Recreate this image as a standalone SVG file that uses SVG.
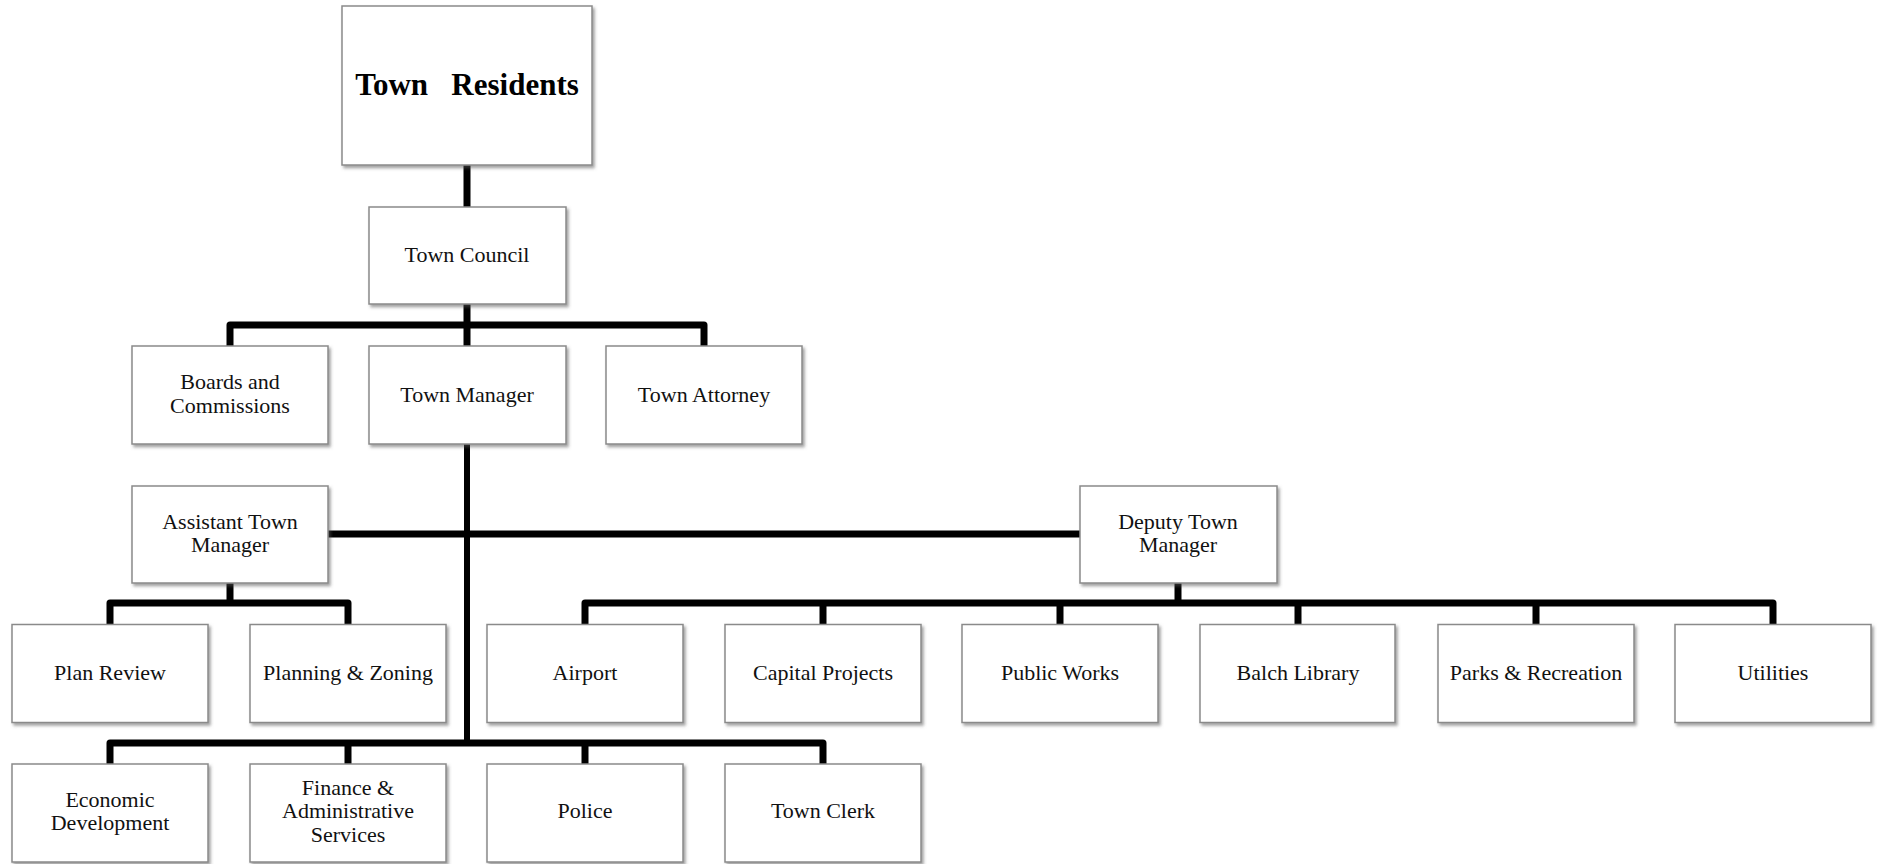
<svg xmlns="http://www.w3.org/2000/svg" width="1880" height="864" viewBox="0 0 1880 864">
<defs>
<filter id="sh" x="-5%" y="-5%" width="115%" height="120%">
<feDropShadow dx="2" dy="2.5" stdDeviation="1.5" flood-color="#555" flood-opacity="0.55"/>
</filter>
<style>
.box{fill:#fff;stroke:#8a8a8a;stroke-width:1.5;filter:url(#sh)}
.t{font-family:"Liberation Serif","Times New Roman",serif;font-size:22px;fill:#111;text-anchor:middle}
.tb{font-family:"Liberation Serif","Times New Roman",serif;font-size:31px;font-weight:bold;fill:#000;text-anchor:middle}
.c{fill:none;stroke:#000;stroke-width:7;stroke-linejoin:round}
</style>
</defs>
<rect width="1880" height="864" fill="#fff"/>
<g id="connectors">
<path class="c" d="M467,165 V207"/>
<path class="c" d="M467,304 V346"/>
<path class="c" d="M230,346 V325 H704 V346"/>
<path class="c" d="M467,444 V743" style="stroke-width:6"/>
<path class="c" d="M327,534 H1080"/>
<path class="c" d="M230,583 V603"/>
<path class="c" d="M110,624 V603 H348 V624"/>
<path class="c" d="M1178,583 V603"/>
<path class="c" d="M585,624 V603 H1773 V624"/>
<path class="c" d="M823,603 V624 M1060,603 V624 M1298,603 V624 M1536,603 V624"/>
<path class="c" d="M110,764 V743 H823 V764"/>
<path class="c" d="M348,743 V764 M585,743 V764"/>
</g>
<g id="town-residents"><rect class="box" x="342" y="6" width="250" height="159"/><text class="tb" x="467" y="95" xml:space="preserve">Town   Residents</text></g>
<g id="town-council"><rect class="box" x="369" y="207" width="197" height="97"/><text class="t" x="467" y="262">Town Council</text></g>
<g id="boards"><rect class="box" x="132" y="346" width="196" height="98"/><text class="t" x="230" y="389">Boards and</text><text class="t" x="230" y="413">Commissions</text></g>
<g id="town-manager"><rect class="box" x="369" y="346" width="197" height="98"/><text class="t" x="467" y="402">Town Manager</text></g>
<g id="town-attorney"><rect class="box" x="606" y="346" width="196" height="98"/><text class="t" x="704" y="402">Town Attorney</text></g>
<g id="assistant-town-manager"><rect class="box" x="132" y="486" width="196" height="97"/><text class="t" x="230" y="529">Assistant Town</text><text class="t" x="230" y="552">Manager</text></g>
<g id="deputy-town-manager"><rect class="box" x="1080" y="486" width="197" height="97"/><text class="t" x="1178" y="529">Deputy Town</text><text class="t" x="1178" y="552">Manager</text></g>
<g id="plan-review"><rect class="box" x="12" y="624.5" width="196" height="98"/><text class="t" x="110" y="680">Plan Review</text></g>
<g id="planning-zoning"><rect class="box" x="250" y="624.5" width="196" height="98"/><text class="t" x="348" y="680">Planning &amp; Zoning</text></g>
<g id="airport"><rect class="box" x="487" y="624.5" width="196" height="98"/><text class="t" x="585" y="680">Airport</text></g>
<g id="capital-projects"><rect class="box" x="725" y="624.5" width="196" height="98"/><text class="t" x="823" y="680">Capital Projects</text></g>
<g id="public-works"><rect class="box" x="962" y="624.5" width="196" height="98"/><text class="t" x="1060" y="680">Public Works</text></g>
<g id="balch-library"><rect class="box" x="1200" y="624.5" width="195" height="98"/><text class="t" x="1298" y="680">Balch Library</text></g>
<g id="parks-recreation"><rect class="box" x="1438" y="624.5" width="196" height="98"/><text class="t" x="1536" y="680">Parks &amp; Recreation</text></g>
<g id="utilities"><rect class="box" x="1675" y="624.5" width="196" height="98"/><text class="t" x="1773" y="680">Utilities</text></g>
<g id="economic-development"><rect class="box" x="12" y="764" width="196" height="98"/><text class="t" x="110" y="807">Economic</text><text class="t" x="110" y="830">Development</text></g>
<g id="finance"><rect class="box" x="250" y="764" width="196" height="98"/><text class="t" x="348" y="795">Finance &amp;</text><text class="t" x="348" y="818">Administrative</text><text class="t" x="348" y="842">Services</text></g>
<g id="police"><rect class="box" x="487" y="764" width="196" height="98"/><text class="t" x="585" y="818">Police</text></g>
<g id="town-clerk"><rect class="box" x="725" y="764" width="196" height="98"/><text class="t" x="823" y="818">Town Clerk</text></g>
</svg>
